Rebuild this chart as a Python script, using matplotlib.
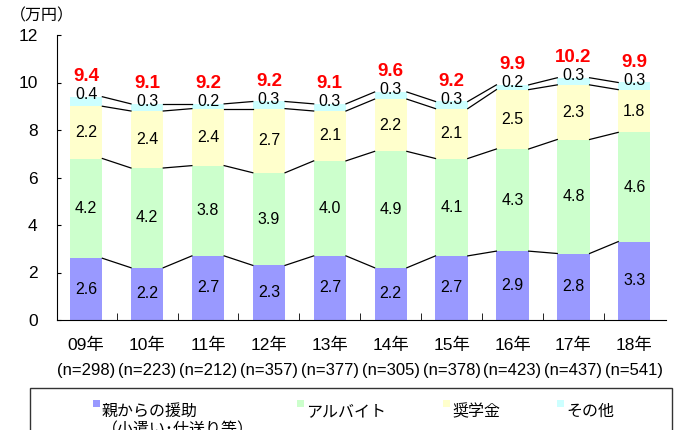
import matplotlib
matplotlib.use("Agg")
import matplotlib.pyplot as plt
from matplotlib.patches import Rectangle
from matplotlib.transforms import blended_transform_factory
import numpy as np

plt.rcParams["font.family"] = ["Liberation Sans", "Noto Sans CJK JP"]

years = ["09年", "10年", "11年", "12年", "13年", "14年", "15年", "16年", "17年", "18年"]
n_labels = ["(n=298)", "(n=223)", "(n=212)", "(n=357)", "(n=377)",
            "(n=305)", "(n=378)", "(n=423)", "(n=437)", "(n=541)"]
parents = [2.6, 2.2, 2.7, 2.3, 2.7, 2.2, 2.7, 2.9, 2.8, 3.3]
arbeit = [4.2, 4.2, 3.8, 3.9, 4.0, 4.9, 4.1, 4.3, 4.8, 4.6]
scholarship = [2.2, 2.4, 2.4, 2.7, 2.1, 2.2, 2.1, 2.5, 2.3, 1.8]
other = [0.4, 0.3, 0.2, 0.3, 0.3, 0.3, 0.3, 0.2, 0.3, 0.3]
totals = [9.4, 9.1, 9.2, 9.2, 9.1, 9.6, 9.2, 9.9, 10.2, 9.9]

series = [parents, arbeit, scholarship, other]
colors = ["#9999FF", "#CCFFCC", "#FFFFCC", "#CCFFFF"]
legend_labels = ["親からの援助\n（小遣い･仕送り等）", "アルバイト", "奨学金", "その他"]

fig = plt.figure(figsize=(6.77, 4.30), dpi=100)
ax = fig.add_axes([57 / 677, 110 / 430, 609 / 677, 285 / 430])

x = np.arange(len(years))
w = 0.53
bottom = np.zeros(len(years))
for vals, c in zip(series, colors):
    vals = np.array(vals)
    ax.bar(x, vals, w, bottom=bottom, color=c, edgecolor="none", zorder=2)
    top = bottom + vals
    # connector lines between neighbouring bars
    for i in range(len(x) - 1):
        ax.plot([x[i] + w / 2, x[i + 1] - w / 2], [top[i], top[i + 1]],
                color="black", lw=0.9, zorder=3)
    bottom = top

# segment labels
bottom = np.zeros(len(years))
for k, vals in enumerate(series):
    vals = np.array(vals)
    for i in range(len(x)):
        if k < 3:
            yy = bottom[i] + vals[i] / 2
        else:
            yy = bottom[i] + vals[i] + 0.1
        ax.text(x[i], yy, f"{vals[i]:.1f}", ha="center", va="center",
                fontsize=11.5, color="black", zorder=4)
    bottom = bottom + vals

for i in range(len(x)):
    ax.text(x[i], bottom[i] + 0.85, f"{totals[i]:.1f}", ha="center", va="center",
            fontsize=13.5, fontweight="bold", color="red", zorder=4)

ax.set_xlim(-0.48, len(years) - 0.48)
ax.set_ylim(0, 12)
ax.set_yticks(range(0, 13, 2))
ax.tick_params(axis="y", direction="in", length=3, pad=14, labelsize=12.5)
ax.set_xticks(x)
ax.set_xticklabels(years, fontsize=12.5)
ax.set_xticks(np.arange(0.5, len(years) - 1, 1), minor=True)
ax.tick_params(axis="x", which="major", length=0, pad=13)
ax.tick_params(axis="x", which="minor", direction="in", length=5)
for s in ["top", "right"]:
    ax.spines[s].set_visible(False)

trans = blended_transform_factory(ax.transData, ax.transAxes)
for i, lab in enumerate(n_labels):
    ax.text(x[i], -50 / 285, lab, transform=trans, ha="center", va="center", fontsize=12)

fig.text(10 / 677, 1 - 16 / 430, "（万円）", fontsize=11.5, ha="left", va="center")

# legend box
fig.add_artist(Rectangle((30 / 677, -0.1), 642 / 677, 42 / 430 + 0.1,
                         transform=fig.transFigure, fill=False, edgecolor="#333333", lw=1.0))
leg_x = [93, 297, 443, 557]
for lx, lab, c in zip(leg_x, legend_labels, colors):
    fig.add_artist(Rectangle((lx / 677, 1 - 407 / 430), 7 / 677, 7 / 430,
                             transform=fig.transFigure, color=c, lw=0))
    fig.text((lx + 9) / 677, 1 - 404 / 430, lab, fontsize=11.5, ha="left", va="top",
             linespacing=1.25)

fig.savefig("out.png", dpi=100)
